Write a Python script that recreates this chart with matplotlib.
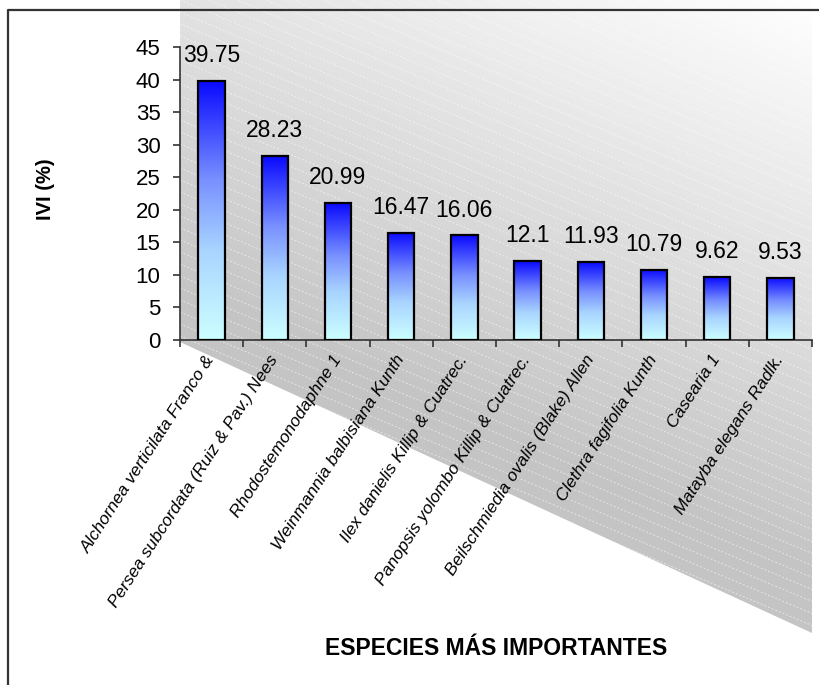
import numpy as np
import matplotlib
matplotlib.use("Agg")
import matplotlib.pyplot as plt
from matplotlib.colors import LinearSegmentedColormap
from matplotlib.patches import Polygon

plt.rcParams['font.family'] = ['Liberation Sans', 'DejaVu Sans']

especies = ['Alchornea verticilata Franco &',
            'Persea subcordata (Ruiz & Pav.) Nees',
            'Rhodostemonodaphne 1',
            'Weinmannia balbisiana Kunth',
            'Ilex danielis Killip & Cuatrec.',
            'Panopsis yolombo Killip & Cuatrec.',
            'Beilschmiedia ovalis (Blake) Allen',
            'Clethra fagifolia Kunth',
            'Casearia 1',
            'Matayba elegans Radlk.']
ivi = [39.75, 28.23, 20.99, 16.47, 16.06, 12.1, 11.93, 10.79, 9.62, 9.53]
yticks = [0, 5, 10, 15, 20, 25, 30, 35, 40, 45]

W, H = 819, 685
fig = plt.figure(figsize=(W / 100, H / 100), dpi=100)
fig.patch.set_facecolor('white')

# background layer in pixel coordinates (skewed grey plot area)
bg = fig.add_axes([0, 0, 1, 1], zorder=-1)
bg.set_xlim(0, W)
bg.set_ylim(H, 0)
bg.axis('off')

poly = Polygon([(180, 0), (812, 0), (812, 633), (180, 342)], closed=True,
               facecolor='none', edgecolor='none')
bg.add_patch(poly)
xx, yy = np.meshgrid(np.arange(W), np.arange(H))
shade = np.clip(255 - 0.045 * (812 - xx) - 0.103 * yy, 196, 255) / 255
img = bg.imshow(np.dstack([shade, shade, shade]), extent=[0, W, H, 0],
                aspect='auto', interpolation='bilinear')
img.set_clip_path(poly)
bg.set_xlim(0, W)
bg.set_ylim(H, 0)

# faint diagonal hatch lines
xs = np.array([180, 812])
for y0 in np.arange(-300, 660, 12):
    ln, = bg.plot(xs, y0 + 0.42 * (xs - 180), color='white', lw=0.7,
                  alpha=0.55, ls=(0, (2, 2)))
    ln.set_clip_path(poly)

# chart border
bg.plot([8, 8, W], [H, 10, 10], color='#333333', lw=1.6,
        solid_capstyle='butt')

# main axes
ax = fig.add_axes([180 / W, 1 - 340 / H, 632 / W, 340 / H])
ax.set_facecolor('none')
x = np.arange(len(ivi))
ymax = 45 * 340 / 293

bars = ax.bar(x, ivi, width=0.42, facecolor='none', edgecolor='black',
              linewidth=1.6, zorder=3)

# vertical blue -> light cyan fill for each bar
cmap = LinearSegmentedColormap.from_list(
    'barra', [(0, '#ccffff'), (0.35, '#a8d4ff'), (0.62, '#7890ff'), (1, '#0a0aff')])
grad = np.linspace(1, 0, 256).reshape(-1, 1)
for b in bars:
    ax.imshow(grad, cmap=cmap, vmin=0, vmax=1, aspect='auto', zorder=2,
              extent=[b.get_x(), b.get_x() + b.get_width(), 0, b.get_height()])
    ax.annotate(f'{b.get_height():g}', (b.get_x() + b.get_width() / 2, b.get_height()),
                xytext=(0, 10), textcoords='offset points', ha='center',
                va='bottom', fontsize=16.5)

ax.set_xlim(-0.5, len(ivi) - 0.5)
ax.set_ylim(0, ymax)

for s in ['top', 'right']:
    ax.spines[s].set_visible(False)
ax.spines['left'].set_bounds(0, 45)
ax.spines['left'].set_color('#333333')
ax.spines['bottom'].set_color('#333333')
ax.spines['left'].set_linewidth(1.2)
ax.spines['bottom'].set_linewidth(1.2)

ax.set_yticks(yticks)
ax.tick_params(axis='y', direction='out', length=5, width=1.2, pad=9,
               labelsize=16, color='#333333')
ax.set_xticks(x)
ax.set_xticklabels(especies, rotation=57, ha='right', va='center',
                   rotation_mode='anchor', fontsize=12.5, style='italic')
ax.tick_params(axis='x', which='major', length=0, pad=12)
ax.set_xticks(np.arange(-0.5, len(ivi)), minor=True)
ax.tick_params(axis='x', which='minor', direction='out', length=5, width=1.2,
               color='#333333')

ax.set_ylabel('IVI (%)', fontsize=14.5, fontweight='bold', va='center')
ax.yaxis.set_label_coords(-0.2136, 0.444)
ax.set_xlabel('ESPECIES MÁS IMPORTANTES', fontsize=16.5, fontweight='bold')
ax.xaxis.set_label_coords(0.5, -0.906)
ax.xaxis.label.set_va('center')

fig.savefig('out.png', dpi=100)
